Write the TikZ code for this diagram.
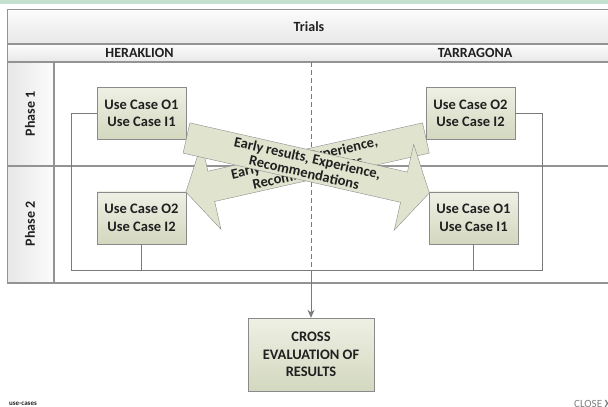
\documentclass[tikz,border=0pt]{standalone}
\usepackage{fontspec}
\setmainfont{Carlito}
\usetikzlibrary{positioning,arrows.meta}

\definecolor{boxtop}{HTML}{EEF0E4}
\definecolor{boxbot}{HTML}{D3D8BF}
\definecolor{boxline}{HTML}{8A8A8A}
\definecolor{laneline}{HTML}{7A7A7A}
\definecolor{tblline}{HTML}{939393}
\definecolor{hdrtop}{HTML}{FCFCFC}
\definecolor{hdrbot}{HTML}{E7E7E7}
\definecolor{topbar}{HTML}{C4E1D0}
\definecolor{txt}{HTML}{202020}
\definecolor{arrowfill}{HTML}{E0E4CF}

\tikzset{
  usecase/.style={draw=boxline, top color=boxtop, bottom color=boxbot,
    minimum width=89pt, minimum height=52pt, inner sep=0pt, align=center,
    text=txt, font=\bfseries\fontsize{14.5}{17.5}\selectfont},
  hdr/.style={text=txt, inner sep=0pt, font=\bfseries\fontsize{14}{16}\selectfont},
  bigarrow/.style={draw=boxline, fill=arrowfill, line join=miter},
  arrowtext/.style={text=txt, align=center, inner sep=0pt,
    font=\bfseries\fontsize{14.5}{15}\selectfont},
  link/.style={draw=laneline, line width=0.9pt}
}

\begin{document}
\begin{tikzpicture}[x=1pt,y=-1pt]
  \useasboundingbox (0,0) rectangle (608,407);
  \clip (0,0) rectangle (608,407);
  \fill[topbar] (0,0) rectangle (608,3.5);

  \shade[top color=hdrtop, bottom color=hdrbot] (7.5,9.5) rectangle (612,44);
  \shade[top color=hdrtop, bottom color=hdrbot] (7.5,44) rectangle (612,62);
  \shade[left color=hdrbot, right color=hdrtop] (7.5,62) rectangle (54,283);
  \draw[tblline, line width=1.5pt] (612,9.5) -- (7.5,9.5) -- (7.5,283) -- (612,283);
  \draw[tblline, line width=1.1pt] (7.5,44) -- (612,44) (7.5,62) -- (612,62)
    (54,62) -- (54,283) (7.5,166) -- (612,166);

  \node[hdr] (trials) at (309,27) {Trials};
  \node[hdr] (herak) at (139.5,53) {HERAKLION};
  \node[hdr] (tarr) at (475,53) {TARRAGONA};
  \node[hdr, rotate=90] (ph1) at (30,114) {Phase 1};
  \node[hdr, rotate=90] (ph2) at (30,224) {Phase 2};

  \node[usecase] (tl) at (141.5,113.5) {Use Case O1\\Use Case I1};
  \node[usecase, below=52pt of tl] (bl) {Use Case O2\\Use Case I2};
  \node[usecase] (tr) at (470.5,113.5) {Use Case O2\\Use Case I2};
  \node[usecase, below=52pt of tr, xshift=3pt] (br) {Use Case O1\\Use Case I1};
  \node[usecase, minimum width=126pt, minimum height=73pt] (cross) at (311,354.5)
    {CROSS\\EVALUATION OF\\RESULTS};

  \coordinate (lb) at (71,270);
  \coordinate (rb) at (542,270);
  \coordinate (mid) at (311,62);
  \draw[link] (tl.west) -| (lb) -- (rb) |- (tr.east);
  \draw[link] (bl.south) -- (bl.south |- lb);
  \draw[link] (br.south) -- (br.south |- rb);
  \draw[link, dash pattern=on 5pt off 3pt] (mid) -- (mid |- lb);
  \draw[link, -{Stealth[length=8pt,width=7pt]}] (mid |- lb) -- (cross.north);

  \begin{scope}[shift={(425.9,138)}, rotate=12.69]
    \draw[bigarrow] (0,-15.5) -- (-220,-15.5) -- (-220,-44) -- (-246,0)
      -- (-220,44) -- (-220,15.5) -- (0,15.5) -- cycle;
    \node[arrowtext, rotate=12.69] (fbleft) at (-123,0)
      {Early results, Experience,\\Recommendations};
  \end{scope}
  \begin{scope}[shift={(186.5,138)}, rotate=-12.75]
    \draw[bigarrow] (0,-15.5) -- (223,-15.5) -- (223,-44) -- (249,0)
      -- (223,44) -- (223,15.5) -- (0,15.5) -- cycle;
    \node[arrowtext, rotate=-12.75] (fbright) at (122.4,0)
      {Early results, Experience,\\Recommendations};
  \end{scope}

  \node[text=txt, font=\bfseries\fontsize{7}{8}\selectfont] (tag) at (23,404) {use-cases};
  \node[anchor=west, inner sep=0pt, text=gray, font=\fontsize{11}{12}\selectfont]
    (close) at (574,404) {CLOSE \textbf{X}};
\end{tikzpicture}
\end{document}
